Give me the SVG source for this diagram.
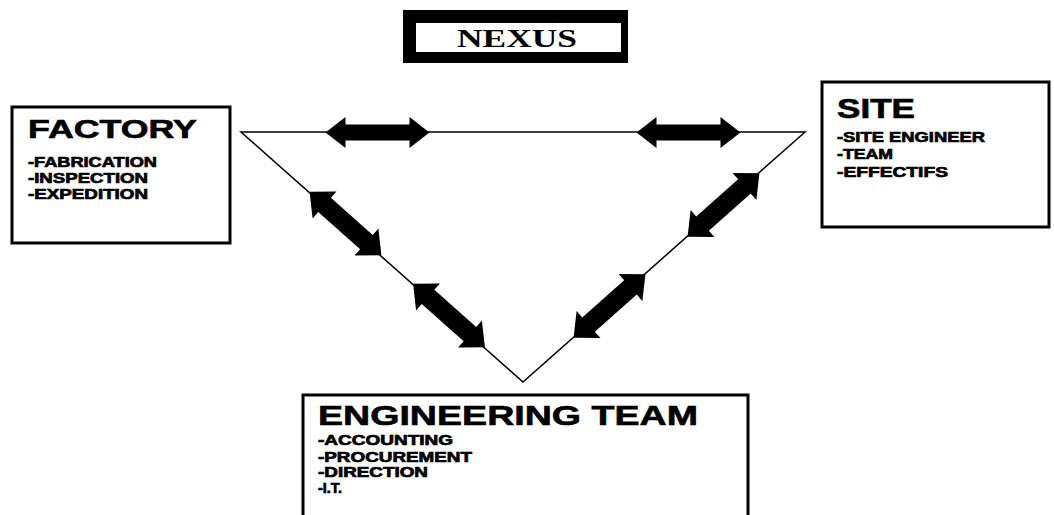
<svg xmlns="http://www.w3.org/2000/svg" width="1054" height="515" viewBox="0 0 1054 515">
  <style>
    .box { fill: #fff; stroke: #000; stroke-width: 3; }
    .title { font-family: "Liberation Sans", Arial, sans-serif; font-weight: bold; fill: #000; stroke: #000; stroke-width: 0.6; }
    .item { font-family: "Liberation Sans", Arial, sans-serif; font-weight: bold; font-size: 14.5px; fill: #000; stroke: #000; stroke-width: 0.7; }
    .edge { fill: none; stroke: #000; stroke-width: 1.5; }
    .arrow { fill: #000; stroke: none; }
  </style>
  <defs>
    <path id="harrow" d="M -52 0 L -32 -15.5 L -32 -8 L 32 -8 L 32 -15.5 L 52 0 L 32 15.5 L 32 8 L -32 8 L -32 15.5 Z"/>
    <path id="darrow" d="M -48 0 L -28 -18 L -28 -9.5 L 28 -9.5 L 28 -18 L 48 0 L 28 18 L 28 9.5 L -28 9.5 L -28 18 Z"/>
  </defs>
  <rect width="1054" height="515" fill="#fff"/>

  <g id="connectors">
    <polygon class="edge" points="241,132 805,132 523,382"/>
    <use href="#harrow" class="arrow" transform="translate(377.5,132.5)"/>
    <use href="#harrow" class="arrow" transform="translate(688.5,132.5)"/>
    <use href="#darrow" class="arrow" transform="translate(345.5,223.5) rotate(41.56)"/>
    <use href="#darrow" class="arrow" transform="translate(449,315.5) rotate(41.56)"/>
    <use href="#darrow" class="arrow" transform="translate(723.5,205) rotate(-41.56)"/>
    <use href="#darrow" class="arrow" transform="translate(609.5,306) rotate(-41.56)"/>
  </g>

  <g id="nexus">
    <rect x="403" y="10" width="225" height="53" fill="#000"/>
    <rect x="416" y="23" width="205" height="29" fill="#fff"/>
    <text x="517" y="47" text-anchor="middle" font-family="'Liberation Serif', 'Times New Roman', serif" font-weight="bold" font-size="26" textLength="120" lengthAdjust="spacingAndGlyphs" fill="#000">NEXUS</text>
  </g>

  <g id="factory">
    <rect class="box" x="12" y="107" width="218" height="136"/>
    <text class="title" x="28" y="138" font-size="26" textLength="169" lengthAdjust="spacingAndGlyphs">FACTORY</text>
    <text class="item" x="28" y="167" textLength="129" lengthAdjust="spacingAndGlyphs">-FABRICATION</text>
    <text class="item" x="28" y="183" textLength="120" lengthAdjust="spacingAndGlyphs">-INSPECTION</text>
    <text class="item" x="28" y="199" textLength="120" lengthAdjust="spacingAndGlyphs">-EXPEDITION</text>
  </g>

  <g id="site">
    <rect class="box" x="822" y="82" width="227" height="145"/>
    <text class="title" x="837" y="118" font-size="27" textLength="78" lengthAdjust="spacingAndGlyphs">SITE</text>
    <text class="item" x="837" y="142" textLength="148" lengthAdjust="spacingAndGlyphs">-SITE ENGINEER</text>
    <text class="item" x="837" y="159" textLength="56" lengthAdjust="spacingAndGlyphs">-TEAM</text>
    <text class="item" x="837" y="177" textLength="111" lengthAdjust="spacingAndGlyphs">-EFFECTIFS</text>
  </g>

  <g id="engineering-team">
    <rect class="box" x="303" y="395" width="445" height="130"/>
    <text class="title" x="318" y="425" font-size="28" textLength="380" lengthAdjust="spacingAndGlyphs">ENGINEERING TEAM</text>
    <text class="item" x="318" y="445" textLength="135" lengthAdjust="spacingAndGlyphs">-ACCOUNTING</text>
    <text class="item" x="318" y="462" textLength="154" lengthAdjust="spacingAndGlyphs">-PROCUREMENT</text>
    <text class="item" x="318" y="477" textLength="110" lengthAdjust="spacingAndGlyphs">-DIRECTION</text>
    <text class="item" x="318" y="493" textLength="24" lengthAdjust="spacingAndGlyphs">-I.T.</text>
  </g>
</svg>
